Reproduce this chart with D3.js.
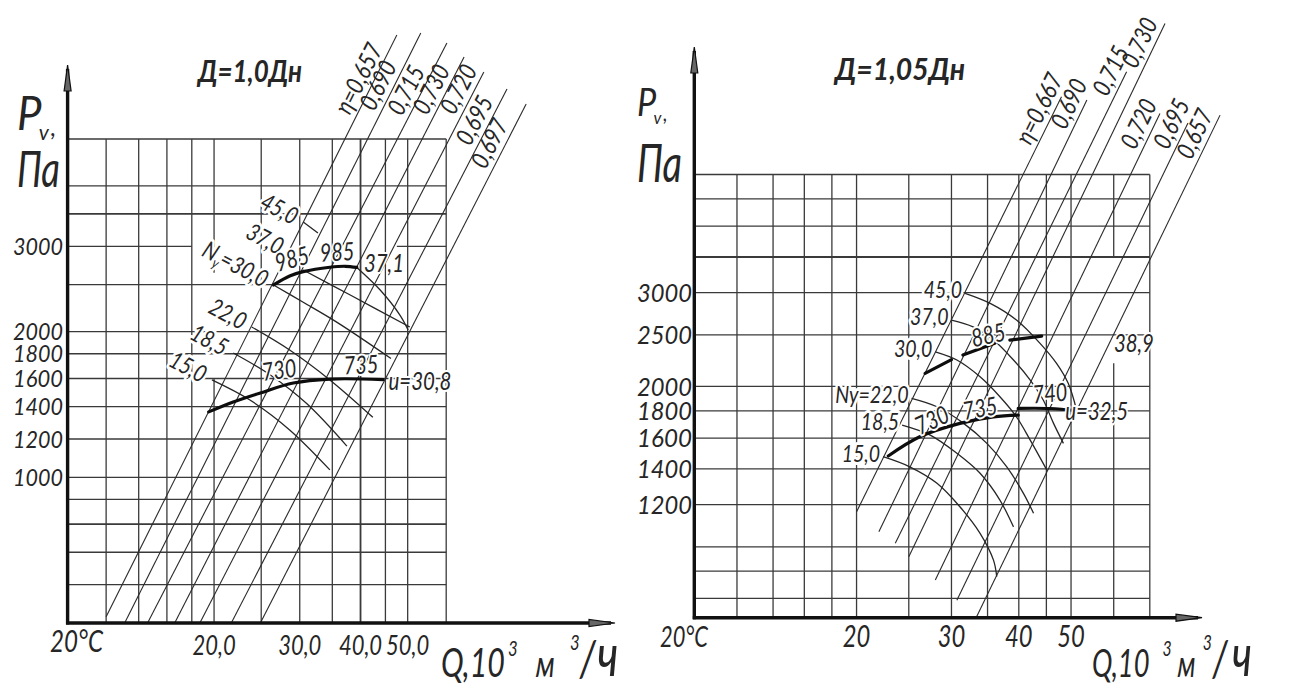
<!DOCTYPE html>
<html><head><meta charset="utf-8">
<script src="https://cdn.jsdelivr.net/npm/d3@7/dist/d3.min.js"></script>
<style>
html,body{margin:0;padding:0;background:#fff;}
svg text{font-family:Lato,"Open Sans","DejaVu Sans",sans-serif;font-style:italic;font-weight:400;fill:#262626;}
</style></head><body>
<svg id="chart" width="1312" height="689"></svg>
<script>
// ================= LEFT chart: Д=1,0Дн =================
const leftQRange = [10, 60];            // Q, 10^3 m3/h
const leftPRange = [500, 5000];         // Pv, Pa
const leftGridQ = [12, 14, 16, 18, 20, 25, 30, 35, 40, 45, 50, 60];
const leftGridP = [600, 700, 800, 900, 1000, 1200, 1400, 1600, 1800, 2000, 2500, 3000, 3500, 4000, 5000];
const leftHeavyQ = [40];
const leftHeavyP = [800, 3500];
const leftGapQ = [[20, 1600, 2645]];          // vertical line broken between two pressures
const leftGapP = [[3000, 18.0, 47.5]];        // horizontal line broken between two flows
const leftTickQ = [20, 30, 40, 50];
const leftTickQText = ["20,0", "30,0", "40,0", "50,0"];
const leftTickP = [1000, 1200, 1400, 1600, 1800, 2000, 3000];
const leftRayText = ["η=0,657", "0,690", "0,715", "0,730", "0,720", "0,695", "0,697"];
const leftRayLow = [[12.0, 515], [13.1, 500], [14.6, 500], [16.6, 500], [18.7, 500], [21.7, 500], [24.9, 500]];
const leftRayHigh = [[47.5, 8200], [53.2, 8280], [60.2, 7895], [65.3, 7385], [71.7, 6877], [80.0, 6343], [87.6, 5905]];
const leftRayLabelP = [6464, 6255, 6107, 6137, 6137, 5295, 4745];
const leftPowerText = ["45,0", "37,0", "Ny=30,0", "", "22,0", "18,5", "15,0"];
// first point = label anchor; drawing starts at index leftPowerFrom[i]
const leftPowerCurves = [
  [[30.5, 3369], [32.7, 3197]],
  [[28.5, 2921], [30.5, 2681], [38.1, 2380], [50.5, 2044]],
  [[26.5, 2497], [30.5, 2300], [35.8, 2090], [46.2, 1760]],
  [[39.3, 2714], [43.9, 2438], [48.2, 2164], [50.1, 2016]],
  [[23.9, 2044], [28.6, 1832], [34.6, 1589], [42.4, 1330]],
  [[21.9, 1806], [26.1, 1627], [31.0, 1420], [37.5, 1160]],
  [[19.8, 1589], [23.7, 1444], [28.6, 1253], [34.6, 1036]]
];
const leftPowerFrom = [0, 1, 0, 0, 0, 0, 0];
const leftSpeedCurves = [
  [[26.5, 2497], [28.6, 2606], [30.5, 2660], [34.6, 2716], [37.2, 2729], [39.3, 2714]],
  [[19.5, 1365], [21.9, 1431], [24.9, 1494], [29.1, 1566], [34.6, 1596], [44.5, 1592]]
];
const leftNoteText = ["985", "985", "37,1", "730", "735", "u=30,8"];
const leftNoteAt = [[28.9, 2825], [35.8, 2921], [44.7, 2773], [27.2, 1666], [40.1, 1707], [53.0, 1581]];
const leftNoteRot = [-15, -3, 0, -8, -3, 0];

// ================= RIGHT chart: Д=1,05Дн =================
const rightQRange = [10, 70];
const rightPRange = [736, 5000];
const rightGridQ = [12, 14, 16, 18, 20, 25, 30, 35, 40, 45, 50, 60, 70];
const rightGridP = [800, 900, 1000, 1200, 1400, 1600, 1800, 2000, 2500, 3000, 3500, 4000, 4500, 5000];
const rightHeavyQ = [];
const rightHeavyP = [3500];
const rightGapQ = [[60, 2212, 3500]];
const rightGapP = [];
const rightTickQ = [20, 30, 40, 50];
const rightTickQText = ["20", "30", "40", "50"];
const rightTickP = [1200, 1400, 1600, 1800, 2000, 2500, 3000];
const rightRayText = ["η=0,667", "0,690", "0,715", "0,730", "0,720", "0,695", "0,657"];
const rightRayLow = [[20.0, 1163], [22.0, 1067], [23.6, 1015], [25.0, 958], [28.0, 866], [30.7, 794], [33.4, 739]];
const rightRayHigh = [[48.0, 6998], [53.5, 6898], [63.4, 7795], [74.7, 9608], [73.1, 6510], [82.4, 6244], [94.5, 6463]];
const rightRayLabelP = [6463, 6606, 7618, 8600, 6058, 6058, 5802];
const rightPowerText = ["45,0", "37,0", "30,0", "Ny=22,0", "18,5", "15,0"];
const rightPowerCurves = [
  [[31.8, 2991], [35.4, 2864], [39.6, 2665], [43.8, 2410], [47.0, 2210], [49.4, 2027], [51.2, 1806]],
  [[30.0, 2665], [32.9, 2588], [35.9, 2444], [39.1, 2242], [42.0, 2056], [44.4, 1886], [46.4, 1705], [48.4, 1564]],
  [[28.0, 2323], [30.7, 2242], [33.9, 2085], [36.9, 1913], [39.6, 1754], [42.0, 1586], [45.1, 1393]],
  [[25.3, 1900], [28.2, 1832], [31.6, 1705], [34.9, 1564], [38.0, 1413], [40.8, 1260], [42.6, 1156]],
  [[24.3, 1693], [27.4, 1621], [30.7, 1498], [33.9, 1374], [36.9, 1224], [39.1, 1090]],
  [[22.4, 1476], [25.1, 1413], [28.2, 1316], [31.1, 1189], [33.9, 1060], [35.9, 944], [36.4, 879]]
];
const rightPowerFrom = [0, 0, 0, 0, 0, 0];
const rightSpeedCurves = [
  [[26.8, 2117], [30.0, 2246]],
  [[31.5, 2291], [36.1, 2410]],
  [[38.5, 2444], [44.1, 2487]],
  [[22.9, 1481], [26.2, 1609], [31.1, 1705], [35.9, 1754], [39.9, 1767]],
  [[39.9, 1819], [45.7, 1818], [51.2, 1801]]
];
const rightNoteText = ["885", "730", "735", "740", "u=32,5", "38,9"];
const rightNoteAt = [[35.1, 2498], [27.6, 1729], [33.9, 1819], [45.7, 1941], [55.8, 1793], [65.4, 2412]];
const rightNoteRot = [-12, -25, -10, -5, 0, 0];

// ================= drawing =================
const svg = d3.select("#chart");

// narrow technical lettering: width per character as a fraction of the font size
const CW = {",": 0.22, ".": 0.22, "=": 0.46, "η": 0.5, "N": 0.58, "y": 0.42, "u": 0.46, "°": 0.3};
const textWidth = (s, fs) => Array.from(s).reduce((a, ch) => a + (CW[ch] ?? 0.46), 0) * fs;

function txt(g, x, y, s, size, o = {}) {
  const t = g.append("text").attr("x", x).attr("y", y).attr("font-size", size).text(s);
  if (o.anchor) t.attr("text-anchor", o.anchor);
  const len = o.len ?? (o.narrow ? textWidth(s, size) * (o.wf ?? 1) : null);
  if (len) t.attr("textLength", len).attr("lengthAdjust", "spacingAndGlyphs");
  if (o.halo) t.attr("stroke", "#fff").attr("stroke-width", o.halo).attr("paint-order", "stroke").attr("stroke-linejoin", "round");
  if (o.weight) t.style("font-weight", o.weight);
  return t;
}

// split [a,b] into pieces that skip the gaps
function segments(a, b, gaps) {
  let segs = [[a, b]];
  gaps.forEach(([g1, g2]) => {
    segs = segs.flatMap(([s1, s2]) => {
      const out = [];
      if (g1 > s1) out.push([s1, Math.min(g1, s2)]);
      if (g2 < s2) out.push([Math.max(g2, s1), s2]);
      return out.filter(d => d[1] > d[0]);
    });
  });
  return segs;
}

function drawPanel(c) {
  const g = svg.append("g");
  const x = d3.scaleLog().domain(c.qRange).range(c.xRange);
  const y = d3.scaleLog().domain(c.pRange).range(c.yRange);
  const gx0 = x(c.qRange[0]), gy0 = y(c.pRange[0]);
  const qMax = d3.max(c.gridQ), pMax = d3.max(c.gridP);

  // grid
  const grid = g.append("g").attr("stroke", "#3a3a3a");
  c.gridQ.forEach(q => {
    const gaps = c.gapQ.filter(d => d[0] === q).map(d => [d[1], d[2]]);
    segments(c.pRange[0], pMax, gaps).forEach(([p1, p2]) => grid.append("line")
      .attr("stroke-width", c.heavyQ.includes(q) ? 1.8 : 1.3)
      .attr("x1", x(q)).attr("x2", x(q)).attr("y1", y(p1)).attr("y2", y(p2)));
  });
  c.gridP.forEach(p => {
    const gaps = c.gapP.filter(d => d[0] === p).map(d => [d[1], d[2]]);
    segments(c.qRange[0], qMax, gaps).forEach(([q1, q2]) => grid.append("line")
      .attr("stroke-width", c.heavyP.includes(p) ? 1.8 : 1.3)
      .attr("x1", x(q1)).attr("x2", x(q2)).attr("y1", y(p)).attr("y2", y(p)));
  });

  const line = d3.line().x(d => x(d[0])).y(d => y(d[1])).curve(d3.curveCatmullRom.alpha(0.5));

  // efficiency rays
  const rays = g.append("g");
  c.rayLow.forEach((lo, i) => {
    const hi = c.rayHigh[i];
    rays.append("line").attr("x1", x(lo[0])).attr("y1", y(lo[1])).attr("x2", x(hi[0])).attr("y2", y(hi[1]))
      .attr("stroke", "#2a2a2a").attr("stroke-width", 1.1);
    const t = (Math.log(c.rayLabelP[i]) - Math.log(lo[1])) / (Math.log(hi[1]) - Math.log(lo[1]));
    const q = Math.exp(Math.log(lo[0]) + t * (Math.log(hi[0]) - Math.log(lo[0])));
    const px = x(q), py = y(c.rayLabelP[i]);
    const ang = Math.atan2(y(hi[1]) - y(lo[1]), x(hi[0]) - x(lo[0])) * 180 / Math.PI;
    txt(rays, 0, 0, c.rayText[i], c.rayFont, {anchor: "middle", narrow: true})
      .attr("dy", -6).attr("transform", `translate(${px},${py}) rotate(${ang})`);
  });

  // power curves
  const pw = g.append("g");
  c.powerCurves.forEach((pts, i) => {
    const drawn = pts.slice(c.powerFrom[i]);
    if (drawn.length > 1) pw.append("path").attr("d", line(drawn)).attr("fill", "none")
      .attr("stroke", "#262626").attr("stroke-width", 1.3);
    const lbl = c.powerText[i];
    if (lbl) {
      const px = x(pts[0][0]), py = y(pts[0][1]);
      const t = txt(pw, 0, 0, "", c.powerFont, {anchor: "end", halo: 6})
        .attr("dx", c.powerDx).attr("dy", c.powerDy)
        .attr("transform", `translate(${px},${py}) rotate(${c.powerRot})`);
      if (c.subscriptN && lbl.startsWith("Ny")) {
        t.append("tspan").text("N");
        t.append("tspan").text("y").attr("font-size", c.powerFont * 0.6).attr("dy", 5);
        t.append("tspan").text(lbl.slice(2)).attr("dy", -5);
        t.attr("textLength", textWidth(lbl, c.powerFont) - 3).attr("lengthAdjust", "spacingAndGlyphs");
      } else {
        t.text(lbl).attr("textLength", textWidth(lbl, c.powerFont)).attr("lengthAdjust", "spacingAndGlyphs");
      }
    }
  });

  // characteristic curves (bold)
  c.speedCurves.forEach(pts => {
    g.append("path").attr("d", line(pts)).attr("fill", "none").attr("stroke", "#0d0d0d")
      .attr("stroke-width", 3.2).attr("stroke-linecap", "round");
  });

  // notes
  c.noteText.forEach((s, i) => {
    const [q, p] = c.noteAt[i];
    txt(g, 0, 0, s, c.noteFont, {anchor: "middle", halo: 4, narrow: true}).attr("dy", "0.35em")
      .attr("transform", `translate(${x(q)},${y(p)}) rotate(${c.noteRot[i]})`);
  });

  // axes with arrows
  const ax = g.append("g");
  ax.append("line").attr("x1", gx0).attr("x2", gx0).attr("y1", gy0 + 1.5).attr("y2", c.yArrow + 4)
    .attr("stroke", "#111").attr("stroke-width", 3.4);
  ax.append("line").attr("x1", gx0 - 1.5).attr("x2", c.xArrow - 4).attr("y1", gy0).attr("y2", gy0)
    .attr("stroke", "#111").attr("stroke-width", 3.4);
  ax.append("path").attr("d", `M${gx0},${c.yArrow} L${gx0 - 3.5},${c.yArrow + 26} L${gx0 + 3.5},${c.yArrow + 26} Z`)
    .attr("fill", "#666").attr("stroke", "#111").attr("stroke-width", 1.2);
  ax.append("path").attr("d", `M${c.xArrow},${gy0} L${c.xArrow - 26},${gy0 - 3.5} L${c.xArrow - 26},${gy0 + 3.5} Z`)
    .attr("fill", "#666").attr("stroke", "#111").attr("stroke-width", 1.2);

  // tick labels
  c.tickP.forEach(p => txt(g, c.pLabelX, y(p), String(p), c.pFont, {anchor: "end", narrow: true, wf: c.pWf}).attr("dy", "0.36em"));
  c.tickQ.forEach((q, i) => txt(g, x(q), c.qLabelY, c.tickQText[i], c.qFont, {anchor: "middle", narrow: true}));
  return {x, y, g};
}

drawPanel({
  qRange: leftQRange, pRange: leftPRange, xRange: [67.6, 446.2], yRange: [623, 139],
  gridQ: leftGridQ, gridP: leftGridP, heavyQ: leftHeavyQ, heavyP: leftHeavyP, gapQ: leftGapQ, gapP: leftGapP,
  tickQ: leftTickQ, tickQText: leftTickQText, tickP: leftTickP,
  rayText: leftRayText, rayLow: leftRayLow, rayHigh: leftRayHigh, rayLabelP: leftRayLabelP, rayFont: 25,
  powerText: leftPowerText, powerCurves: leftPowerCurves, powerFrom: leftPowerFrom,
  powerFont: 24, powerRot: 28, powerDx: -8, powerDy: 8, subscriptN: true,
  speedCurves: leftSpeedCurves, noteText: leftNoteText, noteAt: leftNoteAt, noteRot: leftNoteRot, noteFont: 25,
  xArrow: 615, yArrow: 65, pLabelX: 63, pFont: 24, pWf: 1.13, qLabelY: 655, qFont: 27
});
drawPanel({
  qRange: rightQRange, pRange: rightPRange, xRange: [694.3, 1149.8], yRange: [617.7, 174.5],
  gridQ: rightGridQ, gridP: rightGridP, heavyQ: rightHeavyQ, heavyP: rightHeavyP, gapQ: rightGapQ, gapP: rightGapP,
  tickQ: rightTickQ, tickQText: rightTickQText, tickP: rightTickP,
  rayText: rightRayText, rayLow: rightRayLow, rayHigh: rightRayHigh, rayLabelP: rightRayLabelP, rayFont: 25,
  powerText: rightPowerText, powerCurves: rightPowerCurves, powerFrom: rightPowerFrom,
  powerFont: 24, powerRot: 0, powerDx: -3, powerDy: 5, subscriptN: false,
  speedCurves: rightSpeedCurves, noteText: rightNoteText, noteAt: rightNoteAt, noteRot: rightNoteRot, noteFont: 25,
  xArrow: 1202, yArrow: 47, pLabelX: 692, pFont: 26, pWf: 1.15, qLabelY: 647, qFont: 30
});

// titles and axis names (each built as one text element with super/subscripts)
const T = svg.append("g");
txt(T, 198, 82, "Д=1,0Дн", 30, {len: 104, weight: 700});
txt(T, 835, 80, "Д=1,05Дн", 30, {len: 130, weight: 700});

function pvLabel(x0, y0, fs, sx) {
  const t = T.append("text").attr("transform", `translate(${x0},${y0}) scale(${sx},1)`).attr("font-size", fs);
  t.append("tspan").text("P");
  t.append("tspan").text("v").attr("font-size", fs * 0.48).attr("dx", -3).attr("dy", fs * 0.22);
  t.append("tspan").text(",").attr("font-size", fs * 0.55).attr("dx", 2).attr("dy", -fs * 0.08);
}
function qLabel(x0, y0, fs, sx, gaps) {
  const t = T.append("text").attr("transform", `translate(${x0},${y0}) scale(${sx},1)`).attr("font-size", fs);
  t.append("tspan").text("Q,10");
  t.append("tspan").text("3").attr("font-size", 22).attr("dx", gaps[0]).attr("dy", -21);
  t.append("tspan").text("м").attr("font-size", 36).attr("dx", gaps[1]).attr("dy", 21);
  t.append("tspan").text("3").attr("font-size", 22).attr("dx", gaps[2]).attr("dy", -27);
  t.append("tspan").text("/").attr("font-size", 50).attr("dx", gaps[3]).attr("dy", 26);
  t.append("tspan").text("ч").attr("font-size", 58).attr("dx", gaps[4]);
}
pvLabel(17, 130, 46, 0.95);
txt(T, 17, 187, "Па", 50, {len: 43});
txt(T, 50, 652, "20°C", 30, {len: 53});
qLabel(441, 677, 40, 0.76, [4, 24, 20, 0, 2]);

pvLabel(637, 116, 38, 0.9);
txt(T, 637, 182, "Па", 52, {len: 45});
txt(T, 660, 647, "20°C", 28, {len: 48});
qLabel(1092, 677, 38, 0.72, [18, 8, 10, 1, 6]);
</script>
</body></html>
